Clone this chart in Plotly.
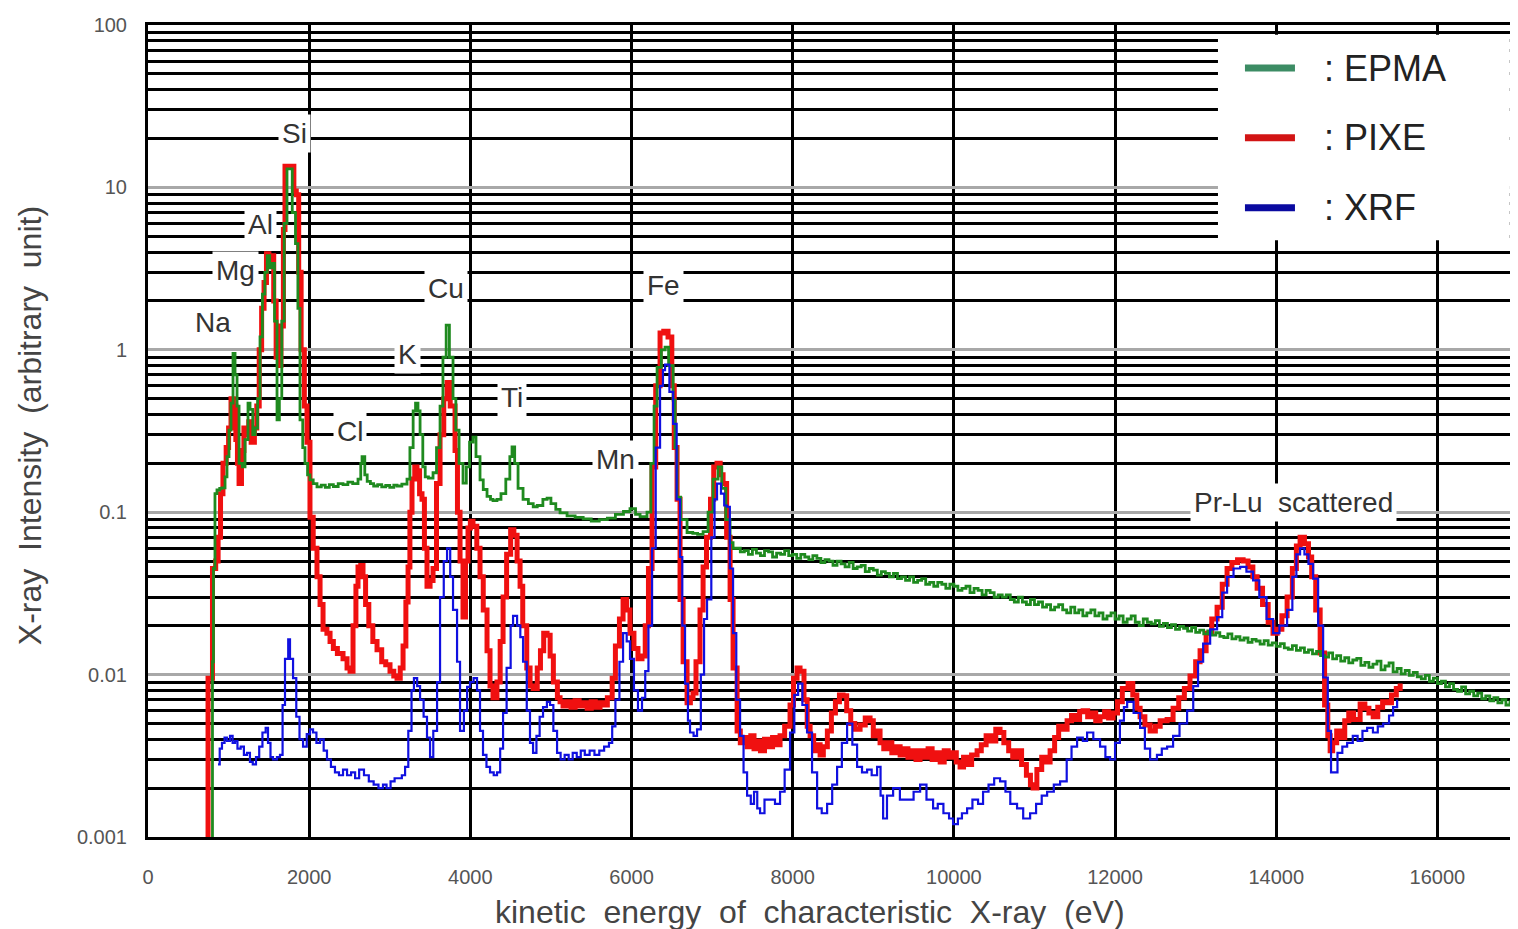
import math
import plotly.graph_objects as go

# ---------------- data ----------------
pixe_x = [730, 745, 790, 800, 840, 870, 900, 930, 970, 1000, 1030, 1060, 1090, 1110, 1130, 1160, 1190, 1220, 1250, 1280,
          1320, 1350, 1380, 1410, 1440, 1470, 1500, 1530, 1560, 1590, 1620, 1650, 1680, 1700, 1790, 1810, 1840, 1870, 1900, 1940,
          1973, 2010, 2050, 2097, 2135, 2172, 2220, 2259, 2300, 2350, 2420, 2470, 2507, 2544, 2580, 2606, 2640, 2668, 2700, 2740,
          2790, 2842, 2900, 2950, 3003, 3050, 3090, 3130, 3165, 3200, 3227, 3250, 3276, 3310, 3338, 3370, 3400, 3430, 3462, 3500,
          3537, 3580, 3624, 3670, 3711, 3750, 3810, 3840, 3872, 3909, 3940, 3971, 4000, 4033, 4080, 4120, 4160, 4207, 4244, 4281,
          4330, 4370, 4406, 4450, 4500, 4540, 4580, 4617, 4650, 4700, 4741, 4780, 4830, 4870, 4910, 4952, 4990, 5030, 5080, 5113,
          5150, 5200, 5250, 5300, 5350, 5400, 5450, 5500, 5550, 5609, 5660, 5700, 5760, 5800, 5850, 5895, 5940, 5981, 6030, 6080,
          6130, 6170, 6210, 6255, 6300, 6354, 6400, 6453, 6500, 6530, 6565, 6602, 6640, 6689, 6730, 6763, 6800, 6850, 6888, 6930,
          6980, 7020, 7061, 7100, 7136, 7180, 7223, 7260, 7310, 7350, 7400, 7434, 7480, 7520, 7560, 7600, 7650, 7700, 7750, 7800,
          7843, 7900, 7967, 8010, 8054, 8091, 8140, 8180, 8216, 8260, 8300, 8340, 8380, 8430, 8480, 8530, 8580, 8625, 8670, 8720,
          8770, 8836, 8900, 8960, 9000, 9040, 9084, 9130, 9180, 9230, 9280, 9333, 9380, 9430, 9480, 9530, 9580, 9630, 9680, 9730,
          9780, 9830, 9880, 9930, 9980, 10030, 10077, 10120, 10170, 10220, 10288, 10340, 10400, 10460, 10520, 10573, 10620, 10680, 10730, 10784,
          10840, 10900, 10950, 10983, 11030, 11090, 11140, 11194, 11250, 11300, 11350, 11405, 11460, 11520, 11560, 11603, 11660, 11710, 11760, 11814,
          11870, 11920, 11976, 12030, 12090, 12162, 12220, 12270, 12311, 12370, 12435, 12500, 12560, 12646, 12720, 12790, 12860, 12930, 13000, 13055,
          13130, 13200, 13266, 13330, 13390, 13450, 13520, 13589, 13650, 13710, 13763, 13830, 13900, 13960, 14011, 14070, 14135, 14200, 14250, 14296,
          14350, 14400, 14440, 14490, 14545, 14600, 14640, 14669, 14700, 14750, 14793, 14850, 14900, 14960, 15041, 15100, 15150, 15203, 15260, 15320,
          15376, 15430, 15490, 15538]
pixe_y = [0.001, 0.0095, 0.0095, 0.045, 0.05, 0.07, 0.13, 0.2, 0.25, 0.33, 0.5, 0.45, 0.28, 0.2, 0.15, 0.24, 0.33, 0.3, 0.36, 0.27,
          0.33, 0.45, 1.0, 1.8, 2.6, 3.9, 3.3, 3.8, 2.0, 0.9, 0.8, 1.4, 5.5, 13.5, 13.5, 9.5, 9.0, 3.0, 1.0, 0.45,
          0.27, 0.093, 0.06, 0.04, 0.027, 0.019, 0.018, 0.016, 0.0145, 0.0135, 0.0125, 0.011, 0.0105, 0.02, 0.035, 0.046, 0.047, 0.04, 0.027, 0.02,
          0.016, 0.0142, 0.012, 0.0115, 0.0105, 0.0098, 0.0095, 0.011, 0.015, 0.028, 0.046, 0.1, 0.16, 0.19, 0.18, 0.13, 0.12, 0.06, 0.035, 0.038,
          0.045, 0.15, 0.3, 0.5, 0.63, 0.45, 0.24, 0.1, 0.05, 0.0226, 0.05, 0.08, 0.088, 0.082, 0.06, 0.04, 0.025, 0.014, 0.0085, 0.0072,
          0.009, 0.016, 0.03, 0.055, 0.078, 0.072, 0.05, 0.035, 0.02, 0.011, 0.0085, 0.0082, 0.011, 0.014, 0.018, 0.0175, 0.013, 0.009, 0.0072, 0.0068,
          0.0064, 0.0068, 0.0063, 0.0069, 0.0064, 0.0067, 0.0062, 0.0068, 0.0063, 0.0067, 0.0065, 0.0072, 0.0095, 0.015, 0.022, 0.029, 0.025, 0.018, 0.0145, 0.0125,
          0.013, 0.02, 0.045, 0.19, 0.6, 1.27, 1.3, 1.2, 0.6, 0.25, 0.12, 0.029, 0.012, 0.0067, 0.0072, 0.0077, 0.012, 0.025, 0.046, 0.07,
          0.12, 0.19, 0.2, 0.17, 0.15, 0.07, 0.029, 0.011, 0.0045, 0.0038, 0.0041, 0.0036, 0.0042, 0.0035, 0.0039, 0.0034, 0.004, 0.0036, 0.0041, 0.0037,
          0.0042, 0.0048, 0.0065, 0.0095, 0.011, 0.0105, 0.007, 0.0048, 0.0042, 0.0034, 0.0037, 0.0032, 0.0036, 0.0045, 0.0058, 0.0068, 0.0075, 0.0074, 0.006, 0.005,
          0.0046, 0.0049, 0.0054, 0.0052, 0.0042, 0.0045, 0.0038, 0.0035, 0.0038, 0.0033, 0.0036, 0.0032, 0.0035, 0.0031, 0.0034, 0.003, 0.0034, 0.0031, 0.0035, 0.003,
          0.0033, 0.0029, 0.0034, 0.0031, 0.0033, 0.0029, 0.0027, 0.0031, 0.0028, 0.0032, 0.0034, 0.0037, 0.0042, 0.0039, 0.0046, 0.0044, 0.0038, 0.0034, 0.0031, 0.0034,
          0.0028, 0.0024, 0.0021, 0.002, 0.0026, 0.0031, 0.0029, 0.0034, 0.0041, 0.0048, 0.0046, 0.0052, 0.0056, 0.0053, 0.0059, 0.006, 0.0055, 0.0058, 0.0052, 0.0055,
          0.0059, 0.0054, 0.0058, 0.0068, 0.0082, 0.0088, 0.0075, 0.0062, 0.0055, 0.0049, 0.0045, 0.0048, 0.0052, 0.0053, 0.0062, 0.0072, 0.0082, 0.0098, 0.012, 0.014,
          0.018, 0.022, 0.026, 0.036, 0.045, 0.049, 0.051, 0.05, 0.046, 0.04, 0.034, 0.027, 0.021, 0.018, 0.019, 0.023, 0.03, 0.045, 0.062, 0.07,
          0.064, 0.053, 0.04, 0.025, 0.0136, 0.0065, 0.0042, 0.0034, 0.0038, 0.0045, 0.0041, 0.0052, 0.0058, 0.0053, 0.0066, 0.0062, 0.0058, 0.0055, 0.0063, 0.0068,
          0.0067, 0.0075, 0.0082, 0.0088]

# EPMA: peak region (up to ~7.3 keV)
epma_peaks_x = [790, 800, 812, 831, 856, 890, 918, 956, 980, 1005, 1030, 1055, 1080, 1105, 1130, 1170, 1204, 1241, 1266, 1300,
                1330, 1360, 1390, 1420, 1450, 1480, 1510, 1540, 1570, 1601, 1630, 1660, 1690, 1725, 1760, 1790, 1830, 1860, 1886, 1920,
                1948, 1980, 2010, 2050, 2097, 2150, 2200, 2250, 2300, 2360, 2420, 2480, 2540, 2606, 2640, 2656, 2690, 2720, 2760, 2800,
                2850, 2900, 2950, 3000, 3050, 3090, 3150, 3214, 3250, 3290, 3320, 3350, 3376, 3410, 3440, 3480, 3537, 3580, 3624, 3660,
                3700, 3740, 3785, 3820, 3860, 3909, 3950, 3990, 4033, 4070, 4120, 4160, 4207, 4250, 4281, 4330, 4380, 4440, 4490, 4517,
                4550, 4592, 4654, 4720, 4780, 4830, 4900, 4952, 5000, 5060, 5113, 5200, 5300, 5400, 5500, 5600, 5700, 5800, 5900, 5981,
                6050, 6106, 6192, 6240, 6280, 6317, 6370, 6416, 6460, 6516, 6540, 6565, 6610, 6689, 6760, 6820, 6888, 6950, 7012, 7074,
                7120, 7170, 7223, 7260]
epma_peaks_y = [0.001, 0.012, 0.045, 0.13, 0.137, 0.14, 0.141, 0.165, 0.22, 0.32, 0.47, 0.95, 0.7, 0.45, 0.2, 0.19, 0.28, 0.47, 0.43, 0.3,
                0.33, 0.5, 1.2, 2.2, 3.0, 3.8, 3.2, 3.4, 1.5, 0.37, 0.5, 1.5, 6.0, 13.0, 13.0, 7.0, 4.5, 1.8, 0.37, 0.25,
                0.2, 0.17, 0.158, 0.15, 0.143, 0.147, 0.142, 0.148, 0.144, 0.15, 0.148, 0.153, 0.15, 0.16, 0.2, 0.22, 0.17, 0.155, 0.15, 0.145,
                0.148, 0.143, 0.146, 0.142, 0.147, 0.145, 0.149, 0.16, 0.25, 0.42, 0.47, 0.42, 0.3, 0.19, 0.165, 0.162, 0.175, 0.25, 0.45, 0.9,
                1.42, 0.9, 0.5, 0.32, 0.2, 0.151, 0.19, 0.27, 0.29, 0.22, 0.158, 0.138, 0.125, 0.12, 0.118, 0.12, 0.13, 0.16, 0.22, 0.252,
                0.2, 0.14, 0.12, 0.113, 0.108, 0.11, 0.12, 0.122, 0.113, 0.104, 0.099, 0.095, 0.093, 0.091, 0.088, 0.09, 0.092, 0.097, 0.101, 0.105,
                0.097, 0.094, 0.1, 0.2, 0.45, 0.78, 1.0, 1.04, 0.8, 0.49, 0.25, 0.124, 0.09, 0.075, 0.074, 0.073, 0.076, 0.1, 0.16, 0.19,
                0.14, 0.09, 0.065, 0.06]
# EPMA: noisy bremsstrahlung tail (7.3 - 17 keV)
epma_tail_x = [7300, 7350, 7400, 7450, 7500, 7550, 7600, 7650, 7700, 7750,
               7800, 7850, 7900, 7950, 8000, 8050, 8100, 8150, 8200, 8250,
               8300, 8350, 8400, 8450, 8500, 8550, 8600, 8650, 8700, 8750,
               8800, 8850, 8900, 8950, 9000, 9050, 9100, 9150, 9200, 9250,
               9300, 9350, 9400, 9450, 9500, 9550, 9600, 9650, 9700, 9750,
               9800, 9850, 9900, 9950, 10000, 10050, 10100, 10150, 10200, 10250,
               10300, 10350, 10400, 10450, 10500, 10550, 10600, 10650, 10700, 10750,
               10800, 10850, 10900, 10950, 11000, 11050, 11100, 11150, 11200, 11250,
               11300, 11350, 11400, 11450, 11500, 11550, 11600, 11650, 11700, 11750,
               11800, 11850, 11900, 11950, 12000, 12050, 12100, 12150, 12200, 12250,
               12300, 12350, 12400, 12450, 12500, 12550, 12600, 12650, 12700, 12750,
               12800, 12850, 12900, 12950, 13000, 13050, 13100, 13150, 13200, 13250,
               13300, 13350, 13400, 13450, 13500, 13550, 13600, 13650, 13700, 13750,
               13800, 13850, 13900, 13950, 14000, 14050, 14100, 14150, 14200, 14250,
               14300, 14350, 14400, 14450, 14500, 14550, 14600, 14650, 14700, 14750,
               14800, 14850, 14900, 14950, 15000, 15050, 15100, 15150, 15200, 15250,
               15300, 15350, 15400, 15450, 15500, 15550, 15600, 15650, 15700, 15750,
               15800, 15850, 15900, 15950, 16000, 16050, 16100, 16150, 16200, 16250,
               16300, 16350, 16400, 16450, 16500, 16550, 16600, 16650, 16700, 16750,
               16800, 16850, 16900, 16950, 17000]
epma_tail_y = [0.060, 0.057, 0.058, 0.055, 0.059, 0.056, 0.054, 0.058, 0.057, 0.053,
               0.056, 0.055, 0.058, 0.054, 0.055, 0.052, 0.055, 0.053, 0.051, 0.054,
               0.052, 0.049, 0.051, 0.050, 0.047, 0.050, 0.048, 0.046, 0.049, 0.045,
               0.046, 0.047, 0.043, 0.045, 0.044, 0.041, 0.043, 0.042, 0.040, 0.042,
               0.039, 0.040, 0.038, 0.040, 0.037, 0.038, 0.039, 0.036, 0.037, 0.035,
               0.037, 0.036, 0.034, 0.036, 0.035, 0.033, 0.034, 0.035, 0.032, 0.034,
               0.033, 0.031, 0.033, 0.032, 0.030, 0.031, 0.030, 0.031, 0.029, 0.028,
               0.030, 0.028, 0.027, 0.029, 0.027, 0.028, 0.026, 0.027, 0.025, 0.026,
               0.027, 0.025, 0.024, 0.026, 0.024, 0.025, 0.023, 0.024, 0.025, 0.023,
               0.024, 0.022, 0.023, 0.024, 0.022, 0.023, 0.021, 0.022, 0.023, 0.021,
               0.020, 0.022, 0.021, 0.0205, 0.0215, 0.0198, 0.0207, 0.0195, 0.0203, 0.019,
               0.0198, 0.0193, 0.0185, 0.0195, 0.0182, 0.0188, 0.0178, 0.0186, 0.0175, 0.0181,
               0.0172, 0.0169, 0.0178, 0.0166, 0.0171, 0.0163, 0.0168, 0.0158, 0.0165, 0.0161,
               0.0154, 0.0162, 0.0152, 0.0157, 0.0149, 0.0155, 0.0146, 0.0143, 0.0151, 0.0141,
               0.0146, 0.0137, 0.0142, 0.0134, 0.0139, 0.0131, 0.0128, 0.0136, 0.0125, 0.0131,
               0.0121, 0.0127, 0.0118, 0.0123, 0.0126, 0.0114, 0.0119, 0.0111, 0.0116, 0.0121,
               0.0107, 0.0113, 0.0118, 0.0104, 0.0109, 0.0101, 0.0106, 0.0099, 0.0103, 0.0097,
               0.0094, 0.0099, 0.0091, 0.0095, 0.0088, 0.0091, 0.0084, 0.0088, 0.0081, 0.0079,
               0.0084, 0.0076, 0.0079, 0.0074, 0.0077, 0.0071, 0.0074, 0.0069, 0.0072, 0.0067,
               0.0070, 0.0065, 0.0068, 0.0064, 0.0067]

xrf_x = [869, 890, 918, 950, 980, 1018, 1050, 1080, 1110, 1150, 1190, 1229, 1265, 1300, 1340, 1380, 1420, 1460, 1489, 1520,
         1551, 1600, 1638, 1670, 1700, 1740, 1762, 1800, 1840, 1880, 1924, 1970, 2010, 2048, 2090, 2135, 2180, 2221, 2270, 2320,
         2370, 2420, 2470, 2520, 2570, 2620, 2680, 2740, 2800, 2860, 2916, 2960, 3010, 3060, 3100, 3150, 3190, 3230, 3270, 3300,
         3340, 3376, 3420, 3462, 3500, 3540, 3587, 3624, 3670, 3711, 3750, 3785, 3835, 3872, 3920, 3960, 3996, 4040, 4083, 4120,
         4157, 4200, 4244, 4290, 4331, 4370, 4406, 4450, 4500, 4530, 4580, 4620, 4654, 4700, 4740, 4778, 4820, 4860, 4902, 4950,
         4989, 5030, 5076, 5120, 5170, 5220, 5270, 5320, 5370, 5420, 5480, 5540, 5600, 5660, 5720, 5760, 5800, 5850, 5895, 5940,
         5981, 6030, 6080, 6130, 6170, 6210, 6255, 6300, 6354, 6390, 6416, 6470, 6516, 6560, 6602, 6630, 6664, 6700, 6726, 6770,
         6813, 6860, 6900, 6937, 6990, 7030, 7061, 7110, 7150, 7185, 7220, 7260, 7300, 7347, 7390, 7434, 7480, 7520, 7560, 7595,
         7650, 7719, 7780, 7843, 7900, 7967, 8020, 8067, 8120, 8178, 8240, 8303, 8360, 8427, 8490, 8551, 8610, 8675, 8740, 8799,
         8860, 8923, 8980, 9047, 9090, 9122, 9170, 9246, 9330, 9419, 9500, 9581, 9660, 9742, 9800, 9870, 9940, 9990, 10050, 10100,
         10164, 10230, 10300, 10362, 10430, 10500, 10573, 10640, 10700, 10784, 10860, 10946, 11020, 11090, 11157, 11240, 11318, 11400, 11460, 11529,
         11600, 11653, 11730, 11814, 11880, 11938, 12000, 12060, 12110, 12150, 12230, 12311, 12370, 12435, 12520, 12580, 12646, 12720, 12800, 12894,
         12970, 13030, 13093, 13180, 13266, 13330, 13390, 13470, 13552, 13630, 13713, 13790, 13880, 13961, 14040, 14135, 14200, 14250, 14296, 14350,
         14400, 14458, 14520, 14582, 14640, 14680, 14706, 14760, 14820, 14880, 14950, 15010, 15070, 15128, 15200, 15260, 15327, 15400, 15450, 15500]
xrf_y = [0.0028, 0.0035, 0.0038, 0.0041, 0.0039, 0.0042, 0.0038, 0.0039, 0.0035, 0.0036, 0.0032, 0.0033, 0.0029, 0.0028, 0.0031, 0.0036, 0.0044, 0.0047, 0.0038, 0.0031,
         0.003, 0.0031, 0.0032, 0.0065, 0.0125, 0.0165, 0.0125, 0.0095, 0.0055, 0.004, 0.0036, 0.0043, 0.0046, 0.0044, 0.0038, 0.004, 0.0034, 0.003, 0.0027, 0.0025,
         0.0024, 0.0026, 0.0024, 0.0025, 0.0023, 0.0026, 0.0024, 0.0022, 0.0021, 0.002, 0.0021, 0.002, 0.0022, 0.0023, 0.0023, 0.0024, 0.0027, 0.0045, 0.008, 0.0095,
         0.0085, 0.007, 0.0055, 0.0041, 0.0031, 0.0045, 0.009, 0.03, 0.05, 0.06, 0.04, 0.025, 0.012, 0.0045, 0.006, 0.0084, 0.009, 0.0095, 0.008, 0.0045,
         0.0032, 0.0027, 0.0025, 0.0024, 0.0025, 0.0035, 0.0058, 0.011, 0.02, 0.023, 0.02, 0.017, 0.012, 0.006, 0.0038, 0.0033, 0.0042, 0.0055, 0.0063, 0.0068,
         0.0065, 0.0045, 0.0033, 0.003, 0.0032, 0.003, 0.0033, 0.0031, 0.0034, 0.0032, 0.0034, 0.0032, 0.0034, 0.0036, 0.0038, 0.0048, 0.007, 0.012, 0.018, 0.016,
         0.0125, 0.008, 0.006, 0.0072, 0.0105, 0.02, 0.06, 0.25, 0.6, 0.75, 0.81, 0.55, 0.35, 0.12, 0.053, 0.02, 0.0088, 0.0052, 0.0044, 0.0042,
         0.0046, 0.01, 0.022, 0.029, 0.07, 0.12, 0.15, 0.13, 0.11, 0.108, 0.045, 0.018, 0.007, 0.0042, 0.0025, 0.0018, 0.0016, 0.0019, 0.0015, 0.0014,
         0.0017, 0.0017, 0.0016, 0.0019, 0.0026, 0.0044, 0.0075, 0.0088, 0.0065, 0.0044, 0.0025, 0.0015, 0.0014, 0.0016, 0.0021, 0.0027, 0.0038, 0.005, 0.0037, 0.0027,
         0.0025, 0.0026, 0.0024, 0.0027, 0.0018, 0.0013, 0.0018, 0.002, 0.0017, 0.0017, 0.0019, 0.0021, 0.0017, 0.0015, 0.0016, 0.0014, 0.0013, 0.0012, 0.0013, 0.0014,
         0.0015, 0.0017, 0.0016, 0.0019, 0.0021, 0.0023, 0.0022, 0.0019, 0.0016, 0.0015, 0.0013, 0.0014, 0.0016, 0.0018, 0.0019, 0.0021, 0.0022, 0.003, 0.0036, 0.0041,
         0.0039, 0.0044, 0.004, 0.0036, 0.0031, 0.003, 0.0038, 0.0052, 0.0063, 0.0068, 0.0058, 0.0047, 0.0035, 0.003, 0.0032, 0.0035, 0.0036, 0.0042, 0.005, 0.006,
         0.0085, 0.012, 0.0155, 0.019, 0.0226, 0.032, 0.04, 0.045, 0.046, 0.043, 0.038, 0.03, 0.022, 0.018, 0.02, 0.025, 0.04, 0.055, 0.06, 0.055,
         0.048, 0.039, 0.02, 0.0096, 0.0045, 0.0025, 0.0025, 0.0033, 0.0036, 0.0038, 0.0042, 0.0039, 0.0045, 0.0047, 0.0044, 0.0048, 0.005, 0.0056, 0.0063, 0.007]

peak_labels = ["Si", "Al", "Mg", "Na", "Cl", "K", "Cu", "Ti", "Mn", "Fe", "Pr-Lu  scattered"]
peak_label_x = [1824, 1390, 1080, 806, 2507, 3214, 3698, 4517, 5795, 6391, 14210]
peak_label_y = [21.6, 5.87, 3.1, 1.48, 0.312, 0.929, 2.4, 0.505, 0.21, 2.5, 0.114]

x_tick_vals = [0, 2000, 4000, 6000, 8000, 10000, 12000, 14000, 16000]
x_tick_text = ["0", "2000", "4000", "6000", "8000", "10000", "12000", "14000", "16000"]
y_tick_vals = [0.001, 0.01, 0.1, 1, 10, 100]
y_tick_text = ["0.001", "0.01", "0.1", "1", "10", "100"]

x_title = "kinetic  energy  of  characteristic  X-ray  (eV)"
y_title = "X-ray  Intensity  (arbitrary  unit)"

series_names = ["EPMA", "PIXE", "XRF"]
series_colors = ["#1f8a1f", "#f01010", "#1010e0"]
legend_colors = ["#3c8c64", "#d21414", "#0a0aa0"]

# ---------------- figure ----------------
epma_x = epma_peaks_x + epma_tail_x
epma_y = epma_peaks_y + epma_tail_y

fig = go.Figure()
fig.add_trace(go.Scatter(x=pixe_x, y=pixe_y, mode="lines", line=dict(color=series_colors[1], width=5, shape="hv"),
                         name=series_names[1], showlegend=False))
fig.add_trace(go.Scatter(x=epma_x, y=epma_y, mode="lines", line=dict(color=series_colors[0], width=2.8, shape="hv"),
                         name=series_names[0], showlegend=False))
fig.add_trace(go.Scatter(x=xrf_x, y=xrf_y, mode="lines", line=dict(color=series_colors[2], width=2.2, shape="hv"),
                         name=series_names[2], showlegend=False))

label_font = dict(family="Liberation Sans, Arial, sans-serif", size=28, color="#333333")
for t, lx, ly in zip(peak_labels, peak_label_x, peak_label_y):
    # annotation positions on a log axis are given in log10 units
    fig.add_annotation(x=lx, y=math.log10(ly), xref="x", yref="y", text=t, showarrow=False,
                       font=label_font, bgcolor="white", borderpad=3, yanchor="middle", xanchor="center")

# custom legend (box + line samples + text)
fig.add_shape(type="rect", xref="paper", yref="paper", x0=0.781, x1=0.994, y0=0.735, y1=0.988,
              fillcolor="white", line=dict(width=0), layer="above")
leg_y = [0.947, 0.861, 0.775]
for name, col, yy in zip(series_names, legend_colors, leg_y):
    fig.add_shape(type="line", xref="paper", yref="paper", x0=0.8007, x1=0.8372, y0=yy, y1=yy,
                  line=dict(color=col, width=7), layer="above")
    fig.add_annotation(xref="paper", yref="paper", x=0.857, y=yy, text=": " + name, showarrow=False,
                       xanchor="left", yanchor="middle",
                       font=dict(family="Liberation Sans, Arial, sans-serif", size=36, color="#222222"))

# axis titles as annotations
fig.add_annotation(xref="paper", yref="paper", x=0.483, y=-0.092, text=x_title,
                   showarrow=False, xanchor="center", yanchor="middle",
                   font=dict(family="Liberation Sans, Arial, sans-serif", size=32, color="#444444"))
fig.add_annotation(xref="paper", yref="paper", x=-0.0861, y=0.506, text=y_title,
                   showarrow=False, xanchor="center", yanchor="middle", textangle=-90,
                   font=dict(family="Liberation Sans, Arial, sans-serif", size=32, color="#444444"))

# the page body has an 8 px margin, so the figure is 8 px smaller and margins shrink by 8 px
fig.update_layout(
    width=1510, height=921,
    margin=dict(l=140, r=0, t=17, b=92),
    paper_bgcolor="white", plot_bgcolor="white",
    showlegend=False,
    xaxis=dict(range=[0, 17000], tickvals=x_tick_vals, ticktext=x_tick_text, ticks="", showgrid=True,
               gridcolor="black", gridwidth=2.5,
               showline=True, linecolor="black", linewidth=3, mirror=True, zeroline=False,
               tickfont=dict(family="Liberation Sans Narrow, Liberation Sans, Arial", size=20, color="#555555"),
               ticklabelstandoff=20),
    yaxis=dict(type="log", range=[-3, 2], tickvals=y_tick_vals, ticktext=y_tick_text, ticks="",
               showgrid=True, gridcolor="#a8a8a8", gridwidth=3,
               minor=dict(dtick="D1", showgrid=True, gridcolor="black", gridwidth=2.5, ticks=""),
               showline=True, linecolor="black", linewidth=3, mirror=False, zeroline=False,
               tickfont=dict(family="Liberation Sans, Arial", size=20, color="#555555"),
               ticklabelstandoff=14),
)

fig.write_html("out.html")
